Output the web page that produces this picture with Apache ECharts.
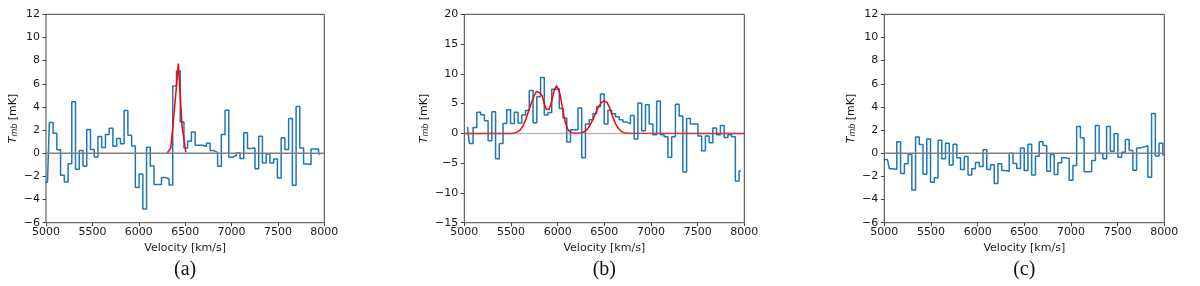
<!DOCTYPE html>
<html>
<head>
<meta charset="utf-8">
<script src="https://cdn.jsdelivr.net/npm/echarts@6/dist/echarts.min.js"></script>
<style>
html,body{margin:0;padding:0;background:#fff;}
#chart{width:1200px;height:286px;}
</style>
</head>
<body>
<div id="chart"></div>
<script>
// ---------- DATA ----------
const xTicks = [5000, 5500, 6000, 6500, 7000, 7500, 8000];
const yTicksAC = [-6, -4, -2, 0, 2, 4, 6, 8, 10, 12];
const yTicksB = [-15, -10, -5, 0, 5, 10, 15, 20];

// panel (a): channel velocities [km/s] and Tmb [mK]
const velA = [4976,
  5016, 5056, 5097, 5137, 5177, 5218, 5258, 5298, 5338, 5379,
  5419, 5459, 5500, 5540, 5580, 5621, 5661, 5701, 5741, 5782,
  5822, 5862, 5903, 5943, 5983, 6024, 6064, 6104, 6144, 6185,
  6225, 6265, 6306, 6346, 6386, 6427, 6467, 6507, 6547, 6588,
  6628, 6668, 6709, 6749, 6789, 6830, 6870, 6910, 6950, 6991,
  7031, 7071, 7112, 7152, 7192, 7233, 7273, 7313, 7353, 7394,
  7434, 7474, 7515, 7555, 7595, 7636, 7676, 7716, 7756, 7797,
  7837, 7877, 7918, 7958];
const tmbA = [-2.5,
  -2.5, 2.65, 1.73, 0.3, -1.9, -2.48, -0.9, 4.44, -1.38, 0.23,
  -1.12, 2.05, 0.32, -0.32, 1.44, 0.49, 1.61, 2.16, 0.6, 1.27,
  0.81, 3.69, 1.56, 0.63, -2.97, -1.79, -4.81, 0.52, -1.1, -2.7,
  -2.7, -2.1, -2.2, -2.75, 5.8, 7.1, 2.7, 0.45, 1.04, 1.84,
  0.69, 0.69, 0.58, 0.86, 0.23, 0.08, -1.12, 1.61, 3.72, -0.35,
  -0.2, 0.03, -0.46, 1.76, 0.4, 0.46, -1.33, 1.47, -0.84, -0.06,
  -0.84, -0.5, -2.13, 1.33, 0.32, 3.0, -2.77, 4.03, 0.46, -0.92,
  -0.98, 0.37, 0.37, -0.06];
const fitVelA = [6306, 6346, 6386, 6427, 6467, 6507];
const fitA = [0.02, 0.45, 3.9, 7.75, 2.3, 0.1];

// panel (b)
const velB = [
  5034, 5074, 5114, 5154, 5195, 5235, 5275, 5315, 5355, 5395,
  5435, 5475, 5516, 5556, 5596, 5636, 5676, 5716, 5757, 5797,
  5837, 5877, 5917, 5957, 5997, 6038, 6078, 6118, 6158, 6198,
  6238, 6278, 6318, 6359, 6399, 6439, 6479, 6519, 6559, 6599,
  6640, 6680, 6720, 6760, 6800, 6840, 6880, 6921, 6961, 7001,
  7041, 7081, 7121, 7161, 7202, 7242, 7282, 7322, 7362, 7402,
  7442, 7483, 7523, 7563, 7603, 7643, 7683, 7723, 7764, 7804,
  7844, 7884, 7924, 7964];
const tmbB = [
  1.12, -1.68, 1.0, 3.53, 3.14, 2.13, -1.23, 3.64, -4.26, -1.68,
  1.68, 3.98, 1.68, 3.53, 1.74, 3.08, 3.86, 7.22, 1.8, 6.16,
  9.4, 3.1, 3.5, 7.4, 7.5, 4.2, 2.6, -1.45, 0.6, 0.6,
  4.25, -4.1, 1.57, 2.3, 3.36, 4.5, 6.6, 1.57, 3.9, 3.3,
  2.8, 2.3, 1.9, 1.6, 3.0, -0.95, 5.1, 0.45, 4.8, 1.57,
  -0.22, 5.4, -0.22, -0.56, -4.0, -0.56, 4.9, 2.9, -6.5, 2.5,
  1.57, 1.57, -0.45, -2.9, -0.45, -1.57, 0.9, -0.22, 1.34, -0.67,
  -0.22, -0.56, -8.0, -6.3];
const fitVelB = [5000, 5500, 5540, 5570, 5600, 5630, 5660, 5690, 5720, 5750,
  5775, 5790, 5810, 5835, 5860, 5880, 5895, 5910, 5930, 5950,
  5970, 5990, 6005, 6025, 6045, 6065, 6085, 6105, 6125, 6150,
  6180, 6230, 6260, 6290, 6320, 6350, 6380, 6410, 6440, 6470,
  6500, 6530, 6560, 6590, 6620, 6650, 6680, 6710, 6740, 6780, 8000];
const fitB = [0, 0, 0.05, 0.25, 0.6, 1.3, 2.4, 3.8, 5.2, 6.4,
  7.05, 7.1, 6.8, 6.3, 4.8, 4.0, 3.85, 4.1, 5.0, 6.4,
  7.5, 8.0, 7.7, 6.6, 4.9, 3.1, 1.7, 0.8, 0.35, 0.12,
  0.03, 0.05, 0.12, 0.32, 0.75, 1.45, 2.4, 3.5, 4.5, 5.2,
  5.45, 5.2, 4.2, 2.8, 1.6, 0.85, 0.35, 0.12, 0.03, 0.01, 0];

// panel (c)
const velC = [4994,
  5034, 5074, 5114, 5154, 5195, 5235, 5275, 5315, 5355, 5395,
  5435, 5475, 5516, 5556, 5596, 5636, 5676, 5716, 5757, 5797,
  5837, 5877, 5917, 5957, 5997, 6038, 6078, 6118, 6158, 6198,
  6238, 6278, 6318, 6359, 6399, 6439, 6479, 6519, 6559, 6599,
  6640, 6680, 6720, 6760, 6800, 6840, 6880, 6921, 6961, 7001,
  7041, 7081, 7121, 7161, 7202, 7242, 7282, 7322, 7362, 7402,
  7442, 7483, 7523, 7563, 7603, 7643, 7683, 7723, 7764, 7804,
  7844, 7884, 7924, 7964, 8004];
const tmbC = [-0.55,
  -0.55, -1.35, -1.4, 1.0, -1.76, -0.91, -0.11, -3.18, 1.4, 0.76,
  -1.81, 1.23, -2.5, -2.12, 1.12, -0.48, 0.87, -1.02, 0.77, -0.39,
  -1.4, -0.28, -1.89, -1.34, -0.8, -1.14, 0.3, -1.4, -1.0, -2.61,
  -0.91, -1.5, -1.56, 0.0, -0.88, -1.32, 0.45, -1.5, 0.77, -1.89,
  -0.26, 1.0, 0.67, -1.56, -0.1, -1.84, -0.82, -0.4, -0.45, -2.33,
  -1.06, 2.3, 1.34, -1.6, -1.6, -0.62, 2.4, -0.03, -0.47, 2.3,
  0.18, 1.68, -0.35, 0.08, 1.19, 0.24, -1.46, 0.46, 0.55, 0.64,
  -2.08, 3.44, -0.24, 0.87, -0.15];

const captions = ['(a)', '(b)', '(c)'];

// ---------- CHART ----------
const FONT = 'DejaVu Sans';
const AXC = '#444';
const TXT = '#1a1a1a';
const zip = (xs, ys) => xs.map((x, i) => [x, ys[i]]);
const minus = v => String(v).replace('-', '\u2212');

const panels = [
  {left: 46, width: 278.3, ymin: -6, ymax: 12, yint: 2, gap: 27, zeroOpacity: 1},
  {left: 464.3, width: 280, ymin: -15, ymax: 20, yint: 5, gap: 34, zeroOpacity: 0.55},
  {left: 884.3, width: 280, ymin: -6, ymax: 12, yint: 2, gap: 27, zeroOpacity: 1}
];
const grids = panels.map(p => ({left: p.left, top: 14.3, width: p.width, height: 208.4,
  show: true, borderColor: AXC, borderWidth: 1, backgroundColor: 'transparent'}));

const xAxes = panels.map((p, i) => ({
  type: 'value', gridIndex: i, min: xTicks[0], max: xTicks[xTicks.length - 1], interval: 500,
  axisLine: {show: false, onZero: false}, splitLine: {show: false},
  axisTick: {show: true, length: 3.5, lineStyle: {color: AXC, width: 1}},
  axisLabel: {fontFamily: FONT, fontSize: 11, color: TXT, margin: 4, formatter: v => String(v)},
  name: 'Velocity [km/s]', nameLocation: 'middle', nameGap: 17,
  nameTextStyle: {fontFamily: FONT, fontSize: 11, color: TXT, verticalAlign: 'top'}
}));
const yAxes = panels.map((p, i) => ({
  type: 'value', gridIndex: i, min: p.ymin, max: p.ymax, interval: p.yint,
  axisLine: {show: false, onZero: false}, splitLine: {show: false},
  axisTick: {show: true, length: 3.5, lineStyle: {color: AXC, width: 1}},
  axisLabel: {fontFamily: FONT, fontSize: 11, color: TXT, margin: 6, formatter: v => minus(v)},
  name: '{t|T}{s|mb} [mK]', nameLocation: 'middle', nameGap: p.gap, nameRotate: 90,
  nameTextStyle: {fontFamily: FONT, fontSize: 11, color: TXT,
    rich: {t: {fontFamily: FONT, fontSize: 11, fontStyle: 'italic', color: TXT},
           s: {fontFamily: FONT, fontSize: 8, fontStyle: 'italic', color: TXT, padding: [4, 0, 0, 0]}}}
}));

const blue = '#1f77b4';
const series = [];
function addStep(idx, xs, ys) {
  series.push({type: 'line', xAxisIndex: idx, yAxisIndex: idx, data: zip(xs, ys), step: 'middle',
    showSymbol: false, lineStyle: {color: blue, width: 1.5}, itemStyle: {color: blue}, silent: true, z: 2});
}
function addFit(idx, xs, ys) {
  series.push({type: 'line', xAxisIndex: idx, yAxisIndex: idx, data: zip(xs, ys),
    showSymbol: false, lineStyle: {color: '#ff0000', width: 1.5}, itemStyle: {color: '#ff0000'}, silent: true, z: 3});
}
function addZero(idx) {
  series.push({type: 'line', xAxisIndex: idx, yAxisIndex: idx, data: [[xTicks[0], 0], [xTicks[xTicks.length - 1], 0]],
    showSymbol: false, lineStyle: {color: '#808080', width: 1.5, opacity: panels[idx].zeroOpacity}, silent: true, z: 4});
}
addStep(0, velA, tmbA); addFit(0, fitVelA, fitA); addZero(0);
addStep(1, velB, tmbB); addFit(1, fitVelB, fitB); addZero(1);
addStep(2, velC, tmbC); addZero(2);

const graphic = panels.map((p, i) => ({
  type: 'text', x: p.left + p.width / 2, y: 270,
  style: {text: captions[i], fontFamily: 'Liberation Serif', fontSize: 20, fill: '#111',
    align: 'center', verticalAlign: 'middle'}
}));

const chart = echarts.init(document.getElementById('chart'), null, {renderer: 'canvas'});
chart.setOption({animation: false, grid: grids, xAxis: xAxes, yAxis: yAxes, series: series, graphic: graphic});
</script>
</body>
</html>
